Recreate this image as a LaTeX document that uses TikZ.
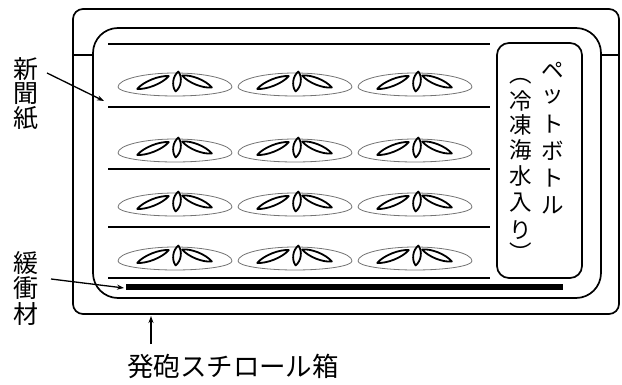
\documentclass[tikz,border=0pt]{standalone}
\usepackage{fontspec}
\newfontfamily\jp{Noto Sans CJK JP}
\usetikzlibrary{arrows.meta}

% one loaf: domed outline with three leaf marks on top
\newcommand\leafmark[5]{%
  \begin{scope}[shift={(#1,#2)},rotate=#3]
    \draw[leafline] (-#4,0) .. controls (-#4/2,-#5) and (#4/2,-#5) .. (#4,0)
                          .. controls (#4/2,#5) and (-#4/2,#5) .. cycle;
  \end{scope}}
\newcommand\loaf[2]{%
  \begin{scope}[shift={(#1,#2)}]
    \draw[loafline] (-57,2) arc[start angle=180,end angle=360,x radius=57,y radius=14]
                            arc[start angle=0,end angle=180,x radius=57,y radius=9] -- cycle;
    \leafmark{-22}{-2.5}{22}{17}{4.4}
    \leafmark{2}{-3.5}{82}{10}{5}
    \leafmark{22}{-3.5}{-22}{16}{4.4}
  \end{scope}}

\begin{document}
\begin{tikzpicture}[x=1pt,y=-1pt,line join=round,
  wall/.style={line width=1.7pt},
  shelf/.style={line width=1.7pt},
  loafline/.style={line width=0.8pt,draw=black!55},
  leafline/.style={line width=1.8pt},
  pointer/.style={line width=1.3pt,-{Stealth[length=7pt,width=5pt]}},
  label/.style={inner sep=0pt,font=\jp\fontsize{25}{25}\selectfont},
  bottletext/.style={inner sep=0pt,font=\jp\fontsize{22.5}{22.5}\selectfont}]
\useasboundingbox (0,0) rectangle (622,385);

% styrofoam box
\draw[wall,rounded corners=10pt] (73,9) rectangle (619,314);
\draw[wall,rounded corners=25pt] (93,28) rectangle (601,298);
\draw[wall] (73,55) -- (93,55);
\draw[wall] (601,55) -- (619,55);

% newspaper layers
\foreach \y in {44,107,169,227,278}
  \draw[shelf] (108,\y) -- (490,\y);

% cushioning
\draw[line width=6.5pt] (126,287) -- (563,287);

% loaves
\foreach \y in {85,151,205,259}
  \foreach \x in {175,295,415}
    \loaf{\x}{\y};

% bottle
\draw[wall,rounded corners=12pt] (497,43) rectangle (582,278);
\foreach \c [count=\i] in {ペ,ッ,ト,ボ,ト,ル}
  \node[bottletext] (pb\i) at (553,{70+27*(\i-1)}) {\c};
\foreach \c/\y [count=\i] in {︵/81,冷/101,凍/125,海/150,水/176,入/203,り/230,︶/252}
  \node[bottletext] (ice\i) at (521,\y) {\c};

% labels
\foreach \c [count=\i] in {新,聞,紙}
  \node[label] (np\i) at (25.5,{69+24.5*(\i-1)}) {\c};
\foreach \c [count=\i] in {緩,衝,材}
  \node[label] (cu\i) at (25.5,{263.5+25*(\i-1)}) {\c};
\node[label,font=\jp\fontsize{26.5}{26.5}\selectfont] (boxname) at (233,366) {発砲スチロール箱};

\coordinate (npfrom) at (47,73);
\coordinate (npto) at (104,101);
\coordinate (cufrom) at (51,279);
\coordinate (cuto) at (124,288);
\coordinate (bxfrom) at (151,344);
\coordinate (bxto) at (151,316);
\draw[pointer] (npfrom) -- (npto);
\draw[pointer] (cufrom) -- (cuto);
\draw[pointer] (bxfrom) -- (bxto);
\end{tikzpicture}
\end{document}
